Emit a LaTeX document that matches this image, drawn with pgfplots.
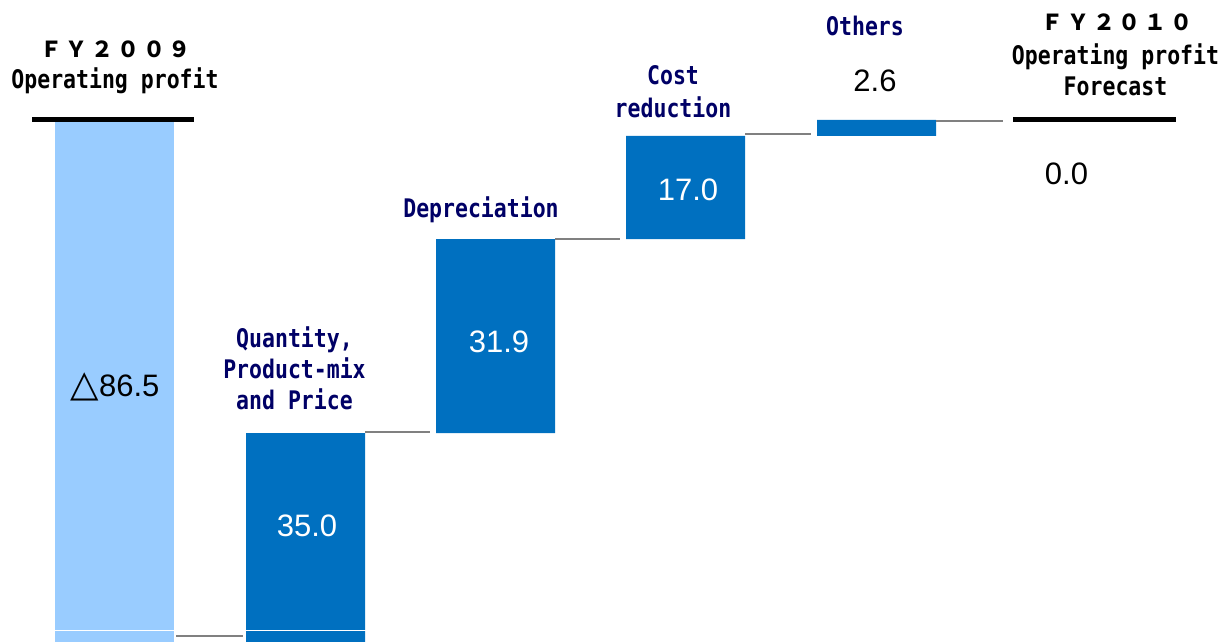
\documentclass[border=0pt]{standalone}
\usepackage{pgfplots}
\pgfplotsset{compat=1.18}
\usepackage{fontspec}
\setmainfont{Liberation Sans}
\newfontfamily\gothic[FakeStretch=0.84]{DejaVu Sans Mono}
\newfontfamily\cjk{Noto Sans CJK JP}
\newfontfamily\dejavu{DejaVu Sans}
\definecolor{lightbar}{HTML}{99CCFF}
\definecolor{darkbar}{HTML}{0070C0}
\definecolor{navy}{HTML}{000066}
\definecolor{conn}{HTML}{808080}
\newcommand{\fw}{\hspace{1.9pt}}
\tikzset{
  lab/.style={font=\gothic\bfseries\fontsize{12.8}{15}\selectfont, text=navy, anchor=base},
  hdr/.style={font=\gothic\bfseries\fontsize{12.8}{15}\selectfont, text=black, anchor=base},
  fwl/.style={font=\cjk\bfseries\fontsize{11}{13}\selectfont, text=black, anchor=base},
  num/.style={font=\fontsize{15.5}{18}\selectfont, anchor=base},
}
\newcommand{\annotations}{%
% axis break
\draw[white, line width=0.6pt] (axis cs:50,-83.96) -- (axis cs:180,-83.96);
\draw[white, line width=0.6pt] (axis cs:240,-83.96) -- (axis cs:370,-83.96);
% connectors
\draw[conn, line width=1pt] (axis cs:176,-84.87) -- (axis cs:243,-84.87);
\draw[conn, line width=1pt] (axis cs:365,-51.3) -- (axis cs:430,-51.3);
\draw[conn, line width=1pt] (axis cs:555,-19.5) -- (axis cs:620,-19.5);
\draw[conn, line width=1pt] (axis cs:745,-2.35) -- (axis cs:811,-2.35);
\draw[conn, line width=1pt] (axis cs:936,-0.1) -- (axis cs:1003,-0.1);
% black level lines
\draw[black, line width=2.5pt] (axis cs:32,0.16) -- (axis cs:194,0.16);
\draw[black, line width=2.5pt] (axis cs:1013,0) -- (axis cs:1176,0);
% headers
\node[fwl] at (axis cs:115.5,10.36) {Ｆ\fw Ｙ\fw ２\fw ０\fw ０\fw ９};
\node[hdr] at (axis cs:115,5.26) {Operating profit};
\node[fwl] at (axis cs:1117,14.80) {Ｆ\fw Ｙ\fw ２\fw ０\fw １\fw ０};
\node[hdr] at (axis cs:1115.5,9.05) {Operating profit};
\node[hdr] at (axis cs:1115.5,3.95) {Forecast};
% category labels
\node[lab] at (axis cs:294.5,-37.34) {Quantity,};
\node[lab] at (axis cs:294.5,-42.60) {Product-mix};
\node[lab] at (axis cs:294.5,-47.70) {and Price};
\node[lab] at (axis cs:481,-16.12) {Depreciation};
\node[lab] at (axis cs:673,5.92) {Cost};
\node[lab] at (axis cs:673,0.49) {reduction};
\node[lab] at (axis cs:865,13.98) {Others};
% value labels
\node[num, text=black] at (axis cs:115,-45.56) {{\dejavu\fontsize{18.5}{18}\selectfont △}86.5};
\node[num, text=white] at (axis cs:307,-68.59) {35.0};
\node[num, text=white] at (axis cs:499,-38.32) {31.9};
\node[num, text=white] at (axis cs:688,-13.32) {17.0};
\node[num, text=black] at (axis cs:875,4.61) {2.6};
\node[num, text=black] at (axis cs:1066.5,-10.69) {0.0};
}
\begin{document}
\begin{tikzpicture}
\begin{axis}[
  scale only axis, width=611.5pt, height=321pt,
  xmin=0, xmax=1223, ymin=-85.86, ymax=19.74,
  enlargelimits=false,
  hide axis, ybar stacked, stack negative=on previous, bar width=119,
  after end axis/.code={\annotations},
]
% invisible base
\addplot[draw=none, fill=none] coordinates {(114.5,0) (305.5,-86.5) (495.5,-51.5) (685.5,-19.6) (876.5,-2.6)};
% FY2009 operating profit
\addplot[draw=none, fill=lightbar] coordinates {(114.5,-86.5) (305.5,0) (495.5,0) (685.5,0) (876.5,0)};
% increments
\addplot[draw=none, fill=darkbar] coordinates {(114.5,0) (305.5,35.0) (495.5,31.9) (685.5,17.0) (876.5,2.6)};
\end{axis}
\pgfresetboundingbox
\path (current axis.south west) rectangle (current axis.north east);
\end{tikzpicture}
\end{document}
